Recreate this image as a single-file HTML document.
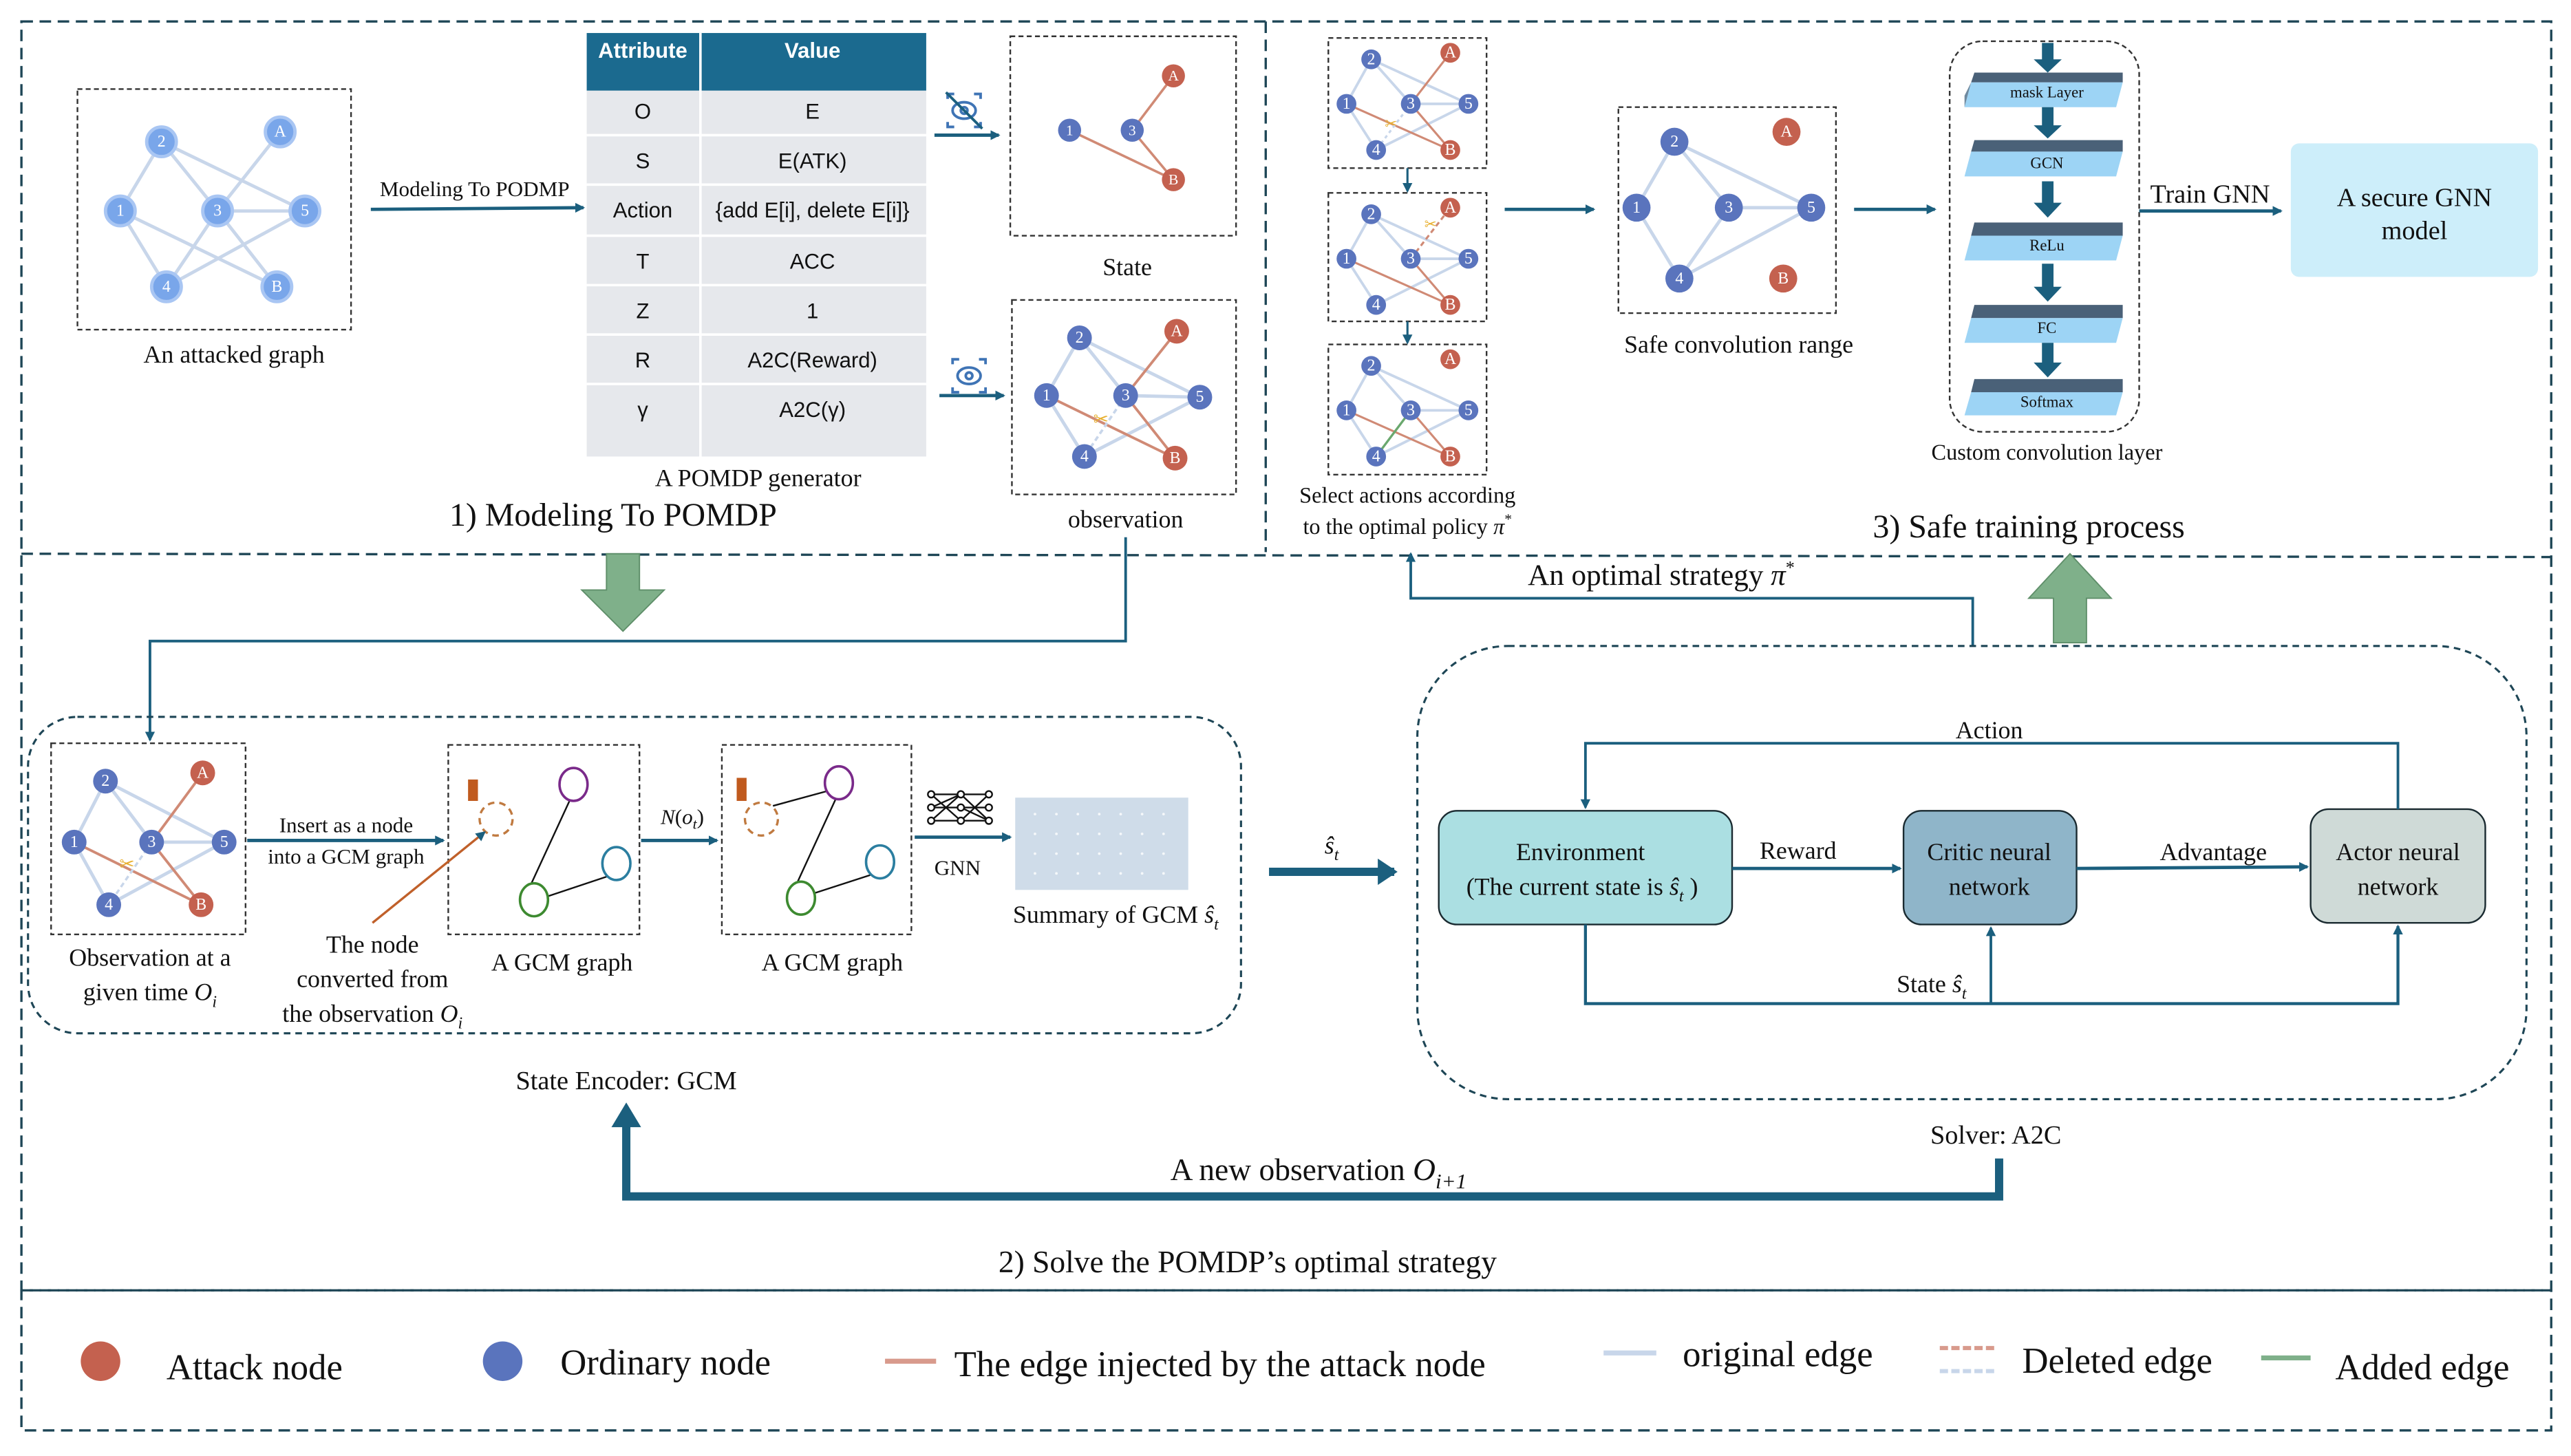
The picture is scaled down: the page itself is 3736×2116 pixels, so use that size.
<!DOCTYPE html>
<html><head><meta charset="utf-8">
<style>
html,body{margin:0;padding:0;background:#fff;}
svg{display:block;}
text{font-family:"Liberation Serif",serif;fill:#111;}
.s{font-family:"Liberation Sans",sans-serif;}
.nl{font-size:10px;fill:#fff;text-anchor:middle;dominant-baseline:central;}
</style></head>
<body>
<svg width="3736" height="2116" viewBox="0 0 1560 883.5" xmlns="http://www.w3.org/2000/svg">
<defs>
<marker id="ah" markerWidth="8" markerHeight="8" refX="6" refY="4" orient="auto" markerUnits="userSpaceOnUse"><path d="M0,0 L7,4 L0,8 z" fill="#1b5f7e"/></marker>
<marker id="ahs" markerWidth="6" markerHeight="6" refX="5" refY="3" orient="auto" markerUnits="userSpaceOnUse"><path d="M0,0 L6,3 L0,6 z" fill="#1b5f7e"/></marker>
<marker id="ahb" markerWidth="14" markerHeight="16" refX="10" refY="8" orient="auto" markerUnits="userSpaceOnUse"><path d="M0,0 L12,8 L0,16 z" fill="#1b5f7e"/></marker>
</defs>

<!-- outer frames -->
<g fill="none" stroke="#1e4656" stroke-width="1.4" stroke-dasharray="7,4">
<rect x="13" y="13" width="1535" height="770"/>
<line x1="768" y1="13" x2="768" y2="335"/>
<line x1="13" y1="336" x2="1548" y2="338"/>
<rect x="13" y="783" width="1535" height="85"/>
</g>

<!-- ===== Section 1 ===== -->
<rect x="47" y="54" width="166" height="146" fill="none" stroke="#333" stroke-width="1" stroke-dasharray="3,2"/>
<g stroke="#c8d6ea" stroke-width="2">
<line x1="98" y1="86" x2="73" y2="128"/><line x1="98" y1="86" x2="132" y2="128"/><line x1="98" y1="86" x2="185" y2="128"/>
<line x1="170" y1="80" x2="132" y2="128"/><line x1="73" y1="128" x2="101" y2="174"/><line x1="73" y1="128" x2="168" y2="174"/>
<line x1="132" y1="128" x2="185" y2="128"/><line x1="132" y1="128" x2="101" y2="174"/><line x1="132" y1="128" x2="168" y2="174"/><line x1="101" y1="174" x2="185" y2="128"/>
</g>
<g fill="#79a6ea" stroke="#a9c6f3" stroke-width="2">
<circle cx="98" cy="86" r="9"/><circle cx="170" cy="80" r="9"/><circle cx="73" cy="128" r="9"/><circle cx="132" cy="128" r="9"/><circle cx="185" cy="128" r="9"/><circle cx="101" cy="174" r="9"/><circle cx="168" cy="174" r="9"/>
</g>
<g class="nl"><text class="nl" x="98" y="86">2</text><text class="nl" x="170" y="80">A</text><text class="nl" x="73" y="128">1</text><text class="nl" x="132" y="128">3</text><text class="nl" x="185" y="128">5</text><text class="nl" x="101" y="174">4</text><text class="nl" x="168" y="174">B</text></g>
<text x="142" y="220" font-size="15" text-anchor="middle">An attacked graph</text>

<line x1="225" y1="127" x2="354" y2="126" stroke="#1b5f7e" stroke-width="2" marker-end="url(#ahs)"/>
<text x="288" y="119" font-size="13" text-anchor="middle">Modeling To PODMP</text>

<!-- table -->
<rect x="356" y="20" width="206" height="35" fill="#1b6a8f"/>
<rect x="356" y="55" width="206" height="222" fill="#e6e8ec"/>
<g stroke="#fff" stroke-width="1.5"><line x1="425" y1="20" x2="425" y2="277"/>
<line x1="356" y1="82" x2="562" y2="82"/><line x1="356" y1="112" x2="562" y2="112"/><line x1="356" y1="143" x2="562" y2="143"/><line x1="356" y1="173" x2="562" y2="173"/><line x1="356" y1="203" x2="562" y2="203"/><line x1="356" y1="233" x2="562" y2="233"/></g>
<g class="s" font-size="13" text-anchor="middle">
<text class="s" x="390" y="35" fill="#fff" font-weight="bold" style="fill:#fff">Attribute</text><text class="s" x="493" y="35" font-weight="bold" style="fill:#fff">Value</text>
<text class="s" x="390" y="72">O</text><text class="s" x="493" y="72">E</text>
<text class="s" x="390" y="102">S</text><text class="s" x="493" y="102">E(ATK)</text>
<text class="s" x="390" y="132">Action</text><text class="s" x="493" y="132">{add E[i], delete E[i]}</text>
<text class="s" x="390" y="163">T</text><text class="s" x="493" y="163">ACC</text>
<text class="s" x="390" y="193">Z</text><text class="s" x="493" y="193">1</text>
<text class="s" x="390" y="223">R</text><text class="s" x="493" y="223">A2C(Reward)</text>
<text class="s" x="390" y="253">γ</text><text class="s" x="493" y="253">A2C(γ)</text>
</g>
<text x="460" y="295" font-size="15" text-anchor="middle">A POMDP generator</text>
<text x="372" y="319" font-size="20" text-anchor="middle">1) Modeling To POMDP</text>

<!-- eye icons -->
<g fill="none" stroke="#3f74b5" stroke-width="1.6">
<ellipse cx="585" cy="67" rx="7" ry="5"/><circle cx="585" cy="67" r="2"/>
<path d="M575,60 v-3 h4 M591,57 h4 v3 M575,74 v3 h4 M591,77 h4 v-3"/>
<line x1="574" y1="56" x2="596" y2="78" stroke="#1b5f7e"/>
<ellipse cx="588" cy="228" rx="7" ry="5"/><circle cx="588" cy="228" r="2"/>
<path d="M578,221 v-3 h4 M594,218 h4 v3 M578,235 v3 h4 M594,238 h4 v-3"/>
</g>
<line x1="567" y1="82" x2="606" y2="82" stroke="#1b5f7e" stroke-width="2" marker-end="url(#ahs)"/>
<line x1="570" y1="240" x2="609" y2="240" stroke="#1b5f7e" stroke-width="2" marker-end="url(#ahs)"/>

<!-- state -->
<rect x="613" y="22" width="137" height="121" fill="none" stroke="#333" stroke-width="1" stroke-dasharray="3,2"/>
<g stroke="#d08a75" stroke-width="1.5"><line x1="649" y1="79" x2="712" y2="109"/><line x1="687" y1="79" x2="712" y2="46"/><line x1="687" y1="79" x2="712" y2="109"/></g>
<g fill="#5a74bd"><circle cx="649" cy="79" r="7"/><circle cx="687" cy="79" r="7"/></g>
<g fill="#c4614f"><circle cx="712" cy="46" r="7"/><circle cx="712" cy="109" r="7"/></g>
<text class="nl" x="649" y="79" style="font-size:9px">1</text><text class="nl" x="687" y="79" style="font-size:9px">3</text><text class="nl" x="712" y="46" style="font-size:9px">A</text><text class="nl" x="712" y="109" style="font-size:9px">B</text>
<text x="684" y="167" font-size="15" text-anchor="middle">State</text>

<!-- observation -->
<rect x="614" y="182" width="136" height="118" fill="none" stroke="#333" stroke-width="1" stroke-dasharray="3,2"/>
<g stroke="#c8d6ea" stroke-width="2"><line x1="655" y1="205" x2="635" y2="240"/><line x1="655" y1="205" x2="683" y2="240"/><line x1="655" y1="205" x2="728" y2="241"/><line x1="635" y1="240" x2="658" y2="277"/><line x1="683" y1="240" x2="728" y2="241"/><line x1="658" y1="277" x2="728" y2="241"/></g>
<g stroke="#d08a75" stroke-width="1.6"><line x1="683" y1="240" x2="714" y2="201"/><line x1="635" y1="240" x2="713" y2="278"/><line x1="683" y1="240" x2="713" y2="278"/></g>
<line x1="683" y1="240" x2="658" y2="277" stroke="#c8d6ea" stroke-width="1.5" stroke-dasharray="3,2"/>
<text x="668" y="258" font-size="11" fill="#e8b030" style="fill:#e8b030" text-anchor="middle">✂</text>
<g fill="#5a74bd"><circle cx="655" cy="205" r="7.5"/><circle cx="635" cy="240" r="7.5"/><circle cx="683" cy="240" r="7.5"/><circle cx="728" cy="241" r="7.5"/><circle cx="658" cy="277" r="7.5"/></g>
<g fill="#c4614f"><circle cx="714" cy="201" r="7.5"/><circle cx="713" cy="278" r="7.5"/></g>
<g style="font-size:9px"><text class="nl" x="655" y="205">2</text><text class="nl" x="635" y="240">1</text><text class="nl" x="683" y="240">3</text><text class="nl" x="728" y="241">5</text><text class="nl" x="658" y="277">4</text><text class="nl" x="714" y="201">A</text><text class="nl" x="713" y="278">B</text></g>
<text x="683" y="320" font-size="15" text-anchor="middle">observation</text>

<!-- ===== Section 3 ===== -->
<g id="sg1" transform="translate(806,23)">
<rect x="0" y="0" width="96" height="79" fill="none" stroke="#333" stroke-width="1" stroke-dasharray="3,2"/>
<g stroke="#c8d6ea" stroke-width="1.6"><line x1="26" y1="13" x2="11" y2="40"/><line x1="26" y1="13" x2="50" y2="40"/><line x1="26" y1="13" x2="85" y2="40"/><line x1="11" y1="40" x2="29" y2="68"/><line x1="50" y1="40" x2="85" y2="40"/><line x1="29" y1="68" x2="85" y2="40"/></g>
<g stroke="#d08a75" stroke-width="1.3"><line x1="50" y1="40" x2="74" y2="9"/><line x1="11" y1="40" x2="74" y2="68"/><line x1="50" y1="40" x2="74" y2="68"/></g>
<line x1="50" y1="40" x2="29" y2="68" stroke="#c8d6ea" stroke-width="1.3" stroke-dasharray="2,2"/>
<text x="38" y="55" font-size="9" style="fill:#e8b030" text-anchor="middle">✂</text>
<g fill="#5a74bd"><circle cx="26" cy="13" r="6"/><circle cx="11" cy="40" r="6"/><circle cx="50" cy="40" r="6"/><circle cx="85" cy="40" r="6"/><circle cx="29" cy="68" r="6"/></g>
<g fill="#c4614f"><circle cx="74" cy="9" r="6"/><circle cx="74" cy="68" r="6"/></g>
<g style="font-size:8px"><text class="nl" x="26" y="13">2</text><text class="nl" x="11" y="40">1</text><text class="nl" x="50" y="40">3</text><text class="nl" x="85" y="40">5</text><text class="nl" x="29" y="68">4</text><text class="nl" x="74" y="9">A</text><text class="nl" x="74" y="68">B</text></g>
</g>
<g transform="translate(806,117)">
<rect x="0" y="0" width="96" height="78" fill="none" stroke="#333" stroke-width="1" stroke-dasharray="3,2"/>
<g stroke="#c8d6ea" stroke-width="1.6"><line x1="26" y1="13" x2="11" y2="40"/><line x1="26" y1="13" x2="50" y2="40"/><line x1="26" y1="13" x2="85" y2="40"/><line x1="11" y1="40" x2="29" y2="68"/><line x1="50" y1="40" x2="85" y2="40"/><line x1="29" y1="68" x2="85" y2="40"/></g>
<g stroke="#d08a75" stroke-width="1.3"><line x1="11" y1="40" x2="74" y2="68"/><line x1="50" y1="40" x2="74" y2="68"/></g>
<line x1="50" y1="40" x2="74" y2="9" stroke="#d08a75" stroke-width="1.3" stroke-dasharray="3,2"/>
<text x="62" y="22" font-size="9" style="fill:#e8b030" text-anchor="middle">✂</text>
<g fill="#5a74bd"><circle cx="26" cy="13" r="6"/><circle cx="11" cy="40" r="6"/><circle cx="50" cy="40" r="6"/><circle cx="85" cy="40" r="6"/><circle cx="29" cy="68" r="6"/></g>
<g fill="#c4614f"><circle cx="74" cy="9" r="6"/><circle cx="74" cy="68" r="6"/></g>
<g style="font-size:8px"><text class="nl" x="26" y="13">2</text><text class="nl" x="11" y="40">1</text><text class="nl" x="50" y="40">3</text><text class="nl" x="85" y="40">5</text><text class="nl" x="29" y="68">4</text><text class="nl" x="74" y="9">A</text><text class="nl" x="74" y="68">B</text></g>
</g>
<g transform="translate(806,209)">
<rect x="0" y="0" width="96" height="79" fill="none" stroke="#333" stroke-width="1" stroke-dasharray="3,2"/>
<g stroke="#c8d6ea" stroke-width="1.6"><line x1="26" y1="13" x2="11" y2="40"/><line x1="26" y1="13" x2="50" y2="40"/><line x1="26" y1="13" x2="85" y2="40"/><line x1="11" y1="40" x2="29" y2="68"/><line x1="50" y1="40" x2="85" y2="40"/><line x1="29" y1="68" x2="85" y2="40"/></g>
<g stroke="#d08a75" stroke-width="1.3"><line x1="11" y1="40" x2="74" y2="68"/><line x1="50" y1="40" x2="74" y2="68"/></g>
<line x1="50" y1="40" x2="29" y2="68" stroke="#6aa86e" stroke-width="1.4"/>
<g fill="#5a74bd"><circle cx="26" cy="13" r="6"/><circle cx="11" cy="40" r="6"/><circle cx="50" cy="40" r="6"/><circle cx="85" cy="40" r="6"/><circle cx="29" cy="68" r="6"/></g>
<g fill="#c4614f"><circle cx="74" cy="9" r="6"/><circle cx="74" cy="68" r="6"/></g>
<g style="font-size:8px"><text class="nl" x="26" y="13">2</text><text class="nl" x="11" y="40">1</text><text class="nl" x="50" y="40">3</text><text class="nl" x="85" y="40">5</text><text class="nl" x="29" y="68">4</text><text class="nl" x="74" y="9">A</text><text class="nl" x="74" y="68">B</text></g>
</g>
<line x1="854" y1="102" x2="854" y2="116" stroke="#1b5f7e" stroke-width="1.3" marker-end="url(#ahs)"/>
<line x1="854" y1="195" x2="854" y2="208" stroke="#1b5f7e" stroke-width="1.3" marker-end="url(#ahs)"/>
<text x="854" y="305" font-size="13.5" text-anchor="middle">Select actions according</text>
<text x="854" y="324" font-size="13.5" text-anchor="middle">to the optimal policy <tspan font-style="italic">π</tspan><tspan font-size="9" dy="-6">*</tspan></text>

<line x1="913" y1="127" x2="967" y2="127" stroke="#1b5f7e" stroke-width="2" marker-end="url(#ahs)"/>
<rect x="982" y="65" width="132" height="125" fill="none" stroke="#333" stroke-width="1" stroke-dasharray="3,2"/>
<g stroke="#c8d6ea" stroke-width="2"><line x1="1016" y1="86" x2="993" y2="126"/><line x1="1016" y1="86" x2="1049" y2="126"/><line x1="1016" y1="86" x2="1099" y2="126"/><line x1="993" y1="126" x2="1019" y2="169"/><line x1="1049" y1="126" x2="1099" y2="126"/><line x1="1049" y1="126" x2="1019" y2="169"/><line x1="1019" y1="169" x2="1099" y2="126"/></g>
<g fill="#5a74bd"><circle cx="1016" cy="86" r="8.5"/><circle cx="993" cy="126" r="8.5"/><circle cx="1049" cy="126" r="8.5"/><circle cx="1099" cy="126" r="8.5"/><circle cx="1019" cy="169" r="8.5"/></g>
<g fill="#c4614f"><circle cx="1084" cy="80" r="8.5"/><circle cx="1082" cy="169" r="8.5"/></g>
<g><text class="nl" x="1016" y="86">2</text><text class="nl" x="993" y="126">1</text><text class="nl" x="1049" y="126">3</text><text class="nl" x="1099" y="126">5</text><text class="nl" x="1019" y="169">4</text><text class="nl" x="1084" y="80">A</text><text class="nl" x="1082" y="169">B</text></g>
<text x="1055" y="214" font-size="15" text-anchor="middle">Safe convolution range</text>
<line x1="1125" y1="127" x2="1174" y2="127" stroke="#1b5f7e" stroke-width="2" marker-end="url(#ahs)"/>

<rect x="1183" y="25" width="115" height="237" rx="20" fill="none" stroke="#333" stroke-width="1" stroke-dasharray="3,2"/>
<!-- layers -->
<g>
<g transform="translate(0,0)"><path d="M1198,44 L1288,44 L1288,50 L1196,50 z" fill="#4a6178"/><path d="M1196,50 L1288,50 L1284,65 L1192,65 z" fill="#9dd4f5"/><path d="M1196,50 L1192,65 L1192,58 z" fill="#6f8aa0"/><text x="1242" y="59" font-size="9.5" text-anchor="middle">mask Layer</text></g>
<g><path d="M1198,85 L1288,85 L1288,92 L1196,92 z" fill="#4a6178"/><path d="M1196,92 L1288,92 L1284,107 L1192,107 z" fill="#9dd4f5"/><text x="1242" y="102" font-size="9.5" text-anchor="middle">GCN</text></g>
<g><path d="M1198,135 L1288,135 L1288,143 L1196,143 z" fill="#4a6178"/><path d="M1196,143 L1288,143 L1284,158 L1192,158 z" fill="#9dd4f5"/><text x="1242" y="152" font-size="9.5" text-anchor="middle">ReLu</text></g>
<g><path d="M1198,185 L1288,185 L1288,193 L1196,193 z" fill="#4a6178"/><path d="M1196,193 L1288,193 L1284,208 L1192,208 z" fill="#9dd4f5"/><text x="1242" y="202" font-size="9.5" text-anchor="middle">FC</text></g>
<g><path d="M1198,230 L1288,230 L1288,238 L1196,238 z" fill="#4a6178"/><path d="M1196,238 L1288,238 L1284,252 L1192,252 z" fill="#9dd4f5"/><text x="1242" y="247" font-size="9.5" text-anchor="middle">Softmax</text></g>
</g>
<g fill="#1b5f7e">
<path d="M1239,26 h7 v10 h5 l-8.5,8 l-8.5,-8 h5 z"/>
<path d="M1239,65 h7 v11 h5 l-8.5,8 l-8.5,-8 h5 z"/>
<path d="M1239,110 h7 v13 h5 l-8.5,9 l-8.5,-9 h5 z"/>
<path d="M1239,160 h7 v14 h5 l-8.5,9 l-8.5,-9 h5 z"/>
<path d="M1239,208 h7 v12 h5 l-8.5,9 l-8.5,-9 h5 z"/>
</g>
<text x="1242" y="279" font-size="13.5" text-anchor="middle">Custom convolution layer</text>
<line x1="1298" y1="128" x2="1384" y2="128" stroke="#1b5f7e" stroke-width="2" marker-end="url(#ahs)"/>
<text x="1341" y="123" font-size="16" text-anchor="middle">Train GNN</text>
<rect x="1390" y="87" width="150" height="81" rx="5" fill="#cdeefa"/>
<text x="1465" y="125" font-size="16" text-anchor="middle">A secure GNN</text>
<text x="1465" y="145" font-size="16" text-anchor="middle">model</text>
<text x="1231" y="326" font-size="20" text-anchor="middle">3) Safe training process</text>

<!-- green block arrows -->
<path d="M368,336 h20 v22 h15 l-25,25 l-25,-25 h15 z" fill="#7fb08a" stroke="#5f8f6a" stroke-width="0.8"/>
<path d="M1246,390 h20 v-27 h15 l-25,-27 l-25,27 h15 z" fill="#7fb08a" stroke="#5f8f6a" stroke-width="0.8"/>

<!-- connectors -->
<polyline points="683,326 683,389 91,389 91,449" fill="none" stroke="#1b5f7e" stroke-width="1.6" marker-end="url(#ahs)"/>
<polyline points="1197,392 1197,363 856,363 856,336" fill="none" stroke="#1b5f7e" stroke-width="1.6" marker-end="url(#ahs)"/>
<text x="1008" y="355" font-size="18" text-anchor="middle">An optimal strategy <tspan font-style="italic">π</tspan><tspan font-size="11" dy="-7">*</tspan></text>

<!-- ===== Section 2 left ===== -->
<rect x="17" y="435" width="736" height="192" rx="30" fill="none" stroke="#1e4656" stroke-width="1.3" stroke-dasharray="4,3"/>
<rect x="31" y="451" width="118" height="116" fill="none" stroke="#333" stroke-width="1" stroke-dasharray="3,2"/>
<g stroke="#c8d6ea" stroke-width="2"><line x1="64" y1="474" x2="45" y2="511"/><line x1="64" y1="474" x2="92" y2="511"/><line x1="64" y1="474" x2="136" y2="511"/><line x1="45" y1="511" x2="66" y2="549"/><line x1="92" y1="511" x2="136" y2="511"/><line x1="66" y1="549" x2="136" y2="511"/></g>
<g stroke="#d08a75" stroke-width="1.6"><line x1="92" y1="511" x2="123" y2="469"/><line x1="45" y1="511" x2="122" y2="549"/><line x1="92" y1="511" x2="122" y2="549"/></g>
<line x1="92" y1="511" x2="66" y2="549" stroke="#c8d6ea" stroke-width="1.4" stroke-dasharray="3,2"/>
<text x="77" y="528" font-size="11" style="fill:#e8b030" text-anchor="middle">✂</text>
<g fill="#5a74bd"><circle cx="64" cy="474" r="7.5"/><circle cx="45" cy="511" r="7.5"/><circle cx="92" cy="511" r="7.5"/><circle cx="136" cy="511" r="7.5"/><circle cx="66" cy="549" r="7.5"/></g>
<g fill="#c4614f"><circle cx="123" cy="469" r="7.5"/><circle cx="122" cy="549" r="7.5"/></g>
<g style="font-size:9px"><text class="nl" x="64" y="474">2</text><text class="nl" x="45" y="511">1</text><text class="nl" x="92" y="511">3</text><text class="nl" x="136" y="511">5</text><text class="nl" x="66" y="549">4</text><text class="nl" x="123" y="469">A</text><text class="nl" x="122" y="549">B</text></g>
<text x="91" y="586" font-size="15" text-anchor="middle">Observation at a</text>
<text x="91" y="607" font-size="15" text-anchor="middle">given time <tspan font-style="italic">O</tspan><tspan font-size="10" font-style="italic" dy="4">i</tspan></text>

<line x1="150" y1="510" x2="269" y2="510" stroke="#1b5f7e" stroke-width="2" marker-end="url(#ahs)"/>
<text x="210" y="505" font-size="13" text-anchor="middle">Insert as a node</text>
<text x="210" y="524" font-size="13" text-anchor="middle">into a GCM graph</text>

<rect x="272" y="452" width="116" height="115" fill="none" stroke="#333" stroke-width="1" stroke-dasharray="3,2"/>
<rect x="284" y="473" width="6" height="13" fill="#c05a1e"/>
<circle cx="301" cy="497" r="10" fill="none" stroke="#c07a40" stroke-width="1.4" stroke-dasharray="4,3"/>
<g stroke="#111" stroke-width="1"><line x1="346" y1="485" x2="322" y2="537"/><line x1="368" y1="532" x2="332" y2="544"/></g>
<ellipse cx="348" cy="476" rx="8.5" ry="10" fill="#fff" stroke="#7a2a8a" stroke-width="1.5"/>
<ellipse cx="374" cy="524" rx="8.5" ry="10" fill="#fff" stroke="#2b7ea0" stroke-width="1.5"/>
<ellipse cx="324" cy="546" rx="8.5" ry="10" fill="#fff" stroke="#3d8a30" stroke-width="1.5"/>
<line x1="226" y1="560" x2="294" y2="505" stroke="#c0602a" stroke-width="1.4" marker-end="url(#ahs)"/>
<text x="226" y="578" font-size="15" text-anchor="middle">The node</text>
<text x="226" y="599" font-size="15" text-anchor="middle">converted from</text>
<text x="226" y="620" font-size="15" text-anchor="middle">the observation <tspan font-style="italic">O</tspan><tspan font-size="10" font-style="italic" dy="4">i</tspan></text>
<text x="341" y="589" font-size="15" text-anchor="middle">A GCM graph</text>

<line x1="389" y1="510" x2="435" y2="510" stroke="#1b5f7e" stroke-width="2" marker-end="url(#ahs)"/>
<text x="414" y="500" font-size="13" text-anchor="middle"><tspan font-style="italic">N</tspan>(<tspan font-style="italic">o</tspan><tspan font-size="9" font-style="italic" dy="3">t</tspan><tspan dy="-3">)</tspan></text>

<rect x="438" y="452" width="115" height="115" fill="none" stroke="#333" stroke-width="1" stroke-dasharray="3,2"/>
<rect x="447" y="472" width="6" height="14" fill="#c05a1e"/>
<circle cx="462" cy="497" r="10" fill="none" stroke="#c07a40" stroke-width="1.4" stroke-dasharray="4,3"/>
<g stroke="#111" stroke-width="1"><line x1="469" y1="489" x2="502" y2="480"/><line x1="507" y1="485" x2="484" y2="535"/><line x1="528" y1="531" x2="494" y2="542"/></g>
<ellipse cx="509" cy="475" rx="8.5" ry="10" fill="#fff" stroke="#7a2a8a" stroke-width="1.5"/>
<ellipse cx="534" cy="523" rx="8.5" ry="10" fill="#fff" stroke="#2b7ea0" stroke-width="1.5"/>
<ellipse cx="486" cy="545" rx="8.5" ry="10" fill="#fff" stroke="#3d8a30" stroke-width="1.5"/>
<text x="505" y="589" font-size="15" text-anchor="middle">A GCM graph</text>

<!-- NN icon -->
<g stroke="#111" stroke-width="1" fill="#fff">
<line x1="565" y1="482" x2="583" y2="498"/><line x1="565" y1="498" x2="583" y2="482"/><line x1="583" y1="482" x2="600" y2="498"/><line x1="583" y1="498" x2="600" y2="482"/>
<line x1="565" y1="482" x2="600" y2="482"/><line x1="565" y1="490" x2="600" y2="490"/><line x1="565" y1="498" x2="600" y2="498"/>
<line x1="565" y1="490" x2="583" y2="482"/><line x1="583" y1="490" x2="600" y2="498"/>
<circle cx="565" cy="482" r="2"/><circle cx="565" cy="490" r="2"/><circle cx="565" cy="498" r="2"/><circle cx="583" cy="482" r="2"/><circle cx="583" cy="490" r="2"/><circle cx="583" cy="498" r="2"/><circle cx="600" cy="482" r="2"/><circle cx="600" cy="490" r="2"/><circle cx="600" cy="498" r="2"/>
</g>
<line x1="555" y1="508" x2="613" y2="508" stroke="#1b5f7e" stroke-width="2" marker-end="url(#ahs)"/>
<text x="581" y="531" font-size="13" text-anchor="middle">GNN</text>
<rect x="616" y="484" width="105" height="56" fill="#cfdce9"/>
<g fill="#fff" opacity="0.8">
<circle cx="628" cy="494" r="0.8"/><circle cx="641" cy="494" r="0.8"/><circle cx="654" cy="494" r="0.8"/><circle cx="667" cy="494" r="0.8"/><circle cx="680" cy="494" r="0.8"/><circle cx="693" cy="494" r="0.8"/><circle cx="706" cy="494" r="0.8"/>
<circle cx="628" cy="506" r="0.8"/><circle cx="641" cy="506" r="0.8"/><circle cx="654" cy="506" r="0.8"/><circle cx="667" cy="506" r="0.8"/><circle cx="680" cy="506" r="0.8"/><circle cx="693" cy="506" r="0.8"/><circle cx="706" cy="506" r="0.8"/>
<circle cx="628" cy="518" r="0.8"/><circle cx="641" cy="518" r="0.8"/><circle cx="654" cy="518" r="0.8"/><circle cx="667" cy="518" r="0.8"/><circle cx="680" cy="518" r="0.8"/><circle cx="693" cy="518" r="0.8"/><circle cx="706" cy="518" r="0.8"/>
<circle cx="628" cy="530" r="0.8"/><circle cx="641" cy="530" r="0.8"/><circle cx="654" cy="530" r="0.8"/><circle cx="667" cy="530" r="0.8"/><circle cx="680" cy="530" r="0.8"/><circle cx="693" cy="530" r="0.8"/><circle cx="706" cy="530" r="0.8"/>
</g>
<text x="677" y="560" font-size="15" text-anchor="middle">Summary of GCM <tspan font-style="italic">ŝ</tspan><tspan font-size="10" font-style="italic" dy="4">t</tspan></text>
<text x="380" y="661" font-size="16" text-anchor="middle">State Encoder: GCM</text>

<!-- big s_t arrow -->
<line x1="770" y1="529" x2="846" y2="529" stroke="#1b5f7e" stroke-width="5" marker-end="url(#ahb)"/>
<text x="808" y="518" font-size="15" text-anchor="middle" font-style="italic">ŝ<tspan font-size="10" dy="4">t</tspan></text>

<!-- ===== Section 2 right ===== -->
<rect x="860" y="392" width="673" height="275" rx="55" fill="none" stroke="#1e4656" stroke-width="1.3" stroke-dasharray="4,3"/>
<rect x="873" y="492" width="178" height="69" rx="11" fill="#abdfe2" stroke="#1a2a30" stroke-width="1"/>
<rect x="1155" y="492" width="105" height="69" rx="11" fill="#8fb5c9" stroke="#1a2a30" stroke-width="1"/>
<rect x="1402" y="491" width="106" height="69" rx="11" fill="#cfdad7" stroke="#1a2a30" stroke-width="1"/>
<text x="959" y="522" font-size="15" text-anchor="middle">Environment</text>
<text x="960" y="543" font-size="15" text-anchor="middle">(The current  state is <tspan font-style="italic">ŝ</tspan><tspan font-size="10" font-style="italic" dy="4">t</tspan><tspan dy="-4"> )</tspan></text>
<text x="1207" y="522" font-size="15" text-anchor="middle">Critic neural</text>
<text x="1207" y="543" font-size="15" text-anchor="middle">network</text>
<text x="1455" y="522" font-size="15" text-anchor="middle">Actor neural</text>
<text x="1455" y="543" font-size="15" text-anchor="middle">network</text>
<polyline points="1455,491 1455,451 962,451 962,490" fill="none" stroke="#1b5f7e" stroke-width="1.6" marker-end="url(#ahs)"/>
<text x="1207" y="448" font-size="15" text-anchor="middle">Action</text>
<line x1="1051" y1="527" x2="1153" y2="527" stroke="#1b5f7e" stroke-width="2" marker-end="url(#ahs)"/>
<text x="1091" y="521" font-size="15" text-anchor="middle">Reward</text>
<line x1="1260" y1="527" x2="1400" y2="526" stroke="#1b5f7e" stroke-width="2" marker-end="url(#ahs)"/>
<text x="1343" y="522" font-size="15" text-anchor="middle">Advantage</text>
<polyline points="962,561 962,609 1455,609 1455,562" fill="none" stroke="#1b5f7e" stroke-width="1.8" marker-end="url(#ahs)"/>
<line x1="1208" y1="609" x2="1208" y2="563" stroke="#1b5f7e" stroke-width="1.6" marker-end="url(#ahs)"/>
<text x="1172" y="602" font-size="15" text-anchor="middle">State <tspan font-style="italic">ŝ</tspan><tspan font-size="10" font-style="italic" dy="4">t</tspan></text>
<text x="1211" y="694" font-size="16" text-anchor="middle">Solver: A2C</text>

<!-- return arrow -->
<polyline points="1213,703 1213,726 380,726 380,682" fill="none" stroke="#1b5f7e" stroke-width="5"/>
<path d="M371,684 L389,684 L380,669 z" fill="#1b5f7e"/>
<text x="800" y="716" font-size="19" text-anchor="middle">A new observation  <tspan font-style="italic">O</tspan><tspan font-size="13" font-style="italic" dy="5">i+1</tspan></text>
<text x="757" y="772" font-size="19" text-anchor="middle">2) Solve the POMDP’s optimal strategy</text>

<!-- legend -->
<circle cx="61" cy="826" r="12" fill="#c4614f"/>
<text x="101" y="837" font-size="22">Attack node</text>
<circle cx="305" cy="826" r="12" fill="#5a74bd"/>
<text x="340" y="834" font-size="22">Ordinary node</text>
<line x1="537" y1="826" x2="568" y2="826" stroke="#d89a8c" stroke-width="3"/>
<text x="579" y="835" font-size="22">The edge injected by the attack node</text>
<line x1="973" y1="821" x2="1005" y2="821" stroke="#c8d6ea" stroke-width="3"/>
<text x="1021" y="829" font-size="22">original edge</text>
<line x1="1177" y1="818" x2="1212" y2="818" stroke="#d89a8c" stroke-width="2.5" stroke-dasharray="5,2"/>
<line x1="1177" y1="832" x2="1212" y2="832" stroke="#c8d6ea" stroke-width="2.5" stroke-dasharray="5,2"/>
<text x="1227" y="833" font-size="22">Deleted edge</text>
<line x1="1372" y1="824" x2="1402" y2="824" stroke="#7fb08a" stroke-width="3"/>
<text x="1417" y="837" font-size="22">Added edge</text>
</svg>
</body></html>
